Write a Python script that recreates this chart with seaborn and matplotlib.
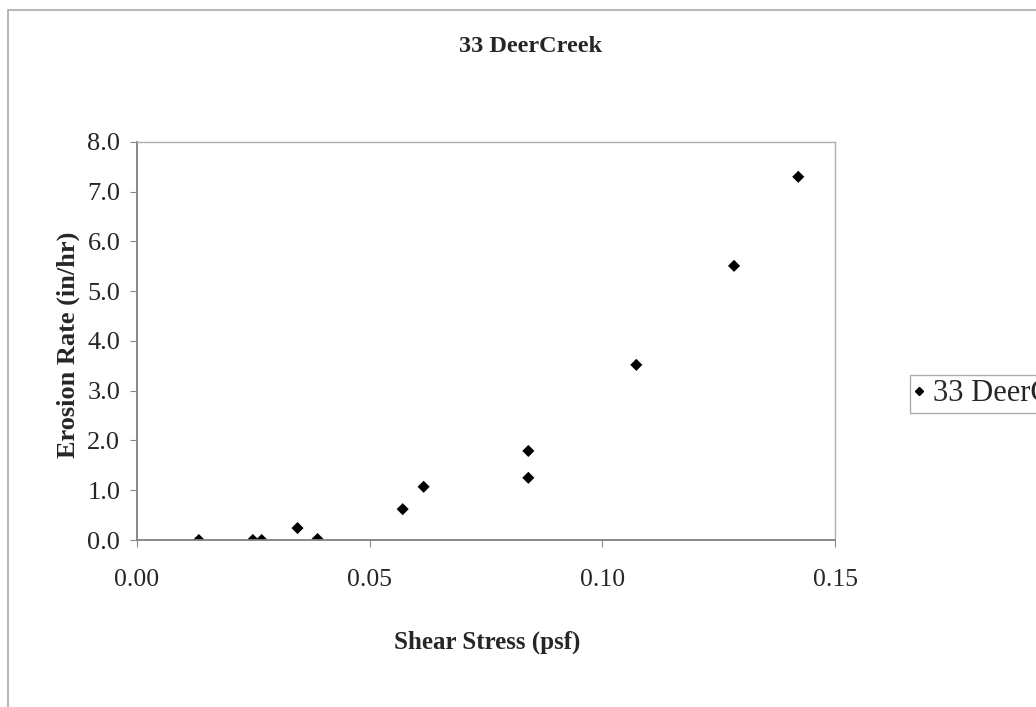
import matplotlib
matplotlib.use("Agg")
import matplotlib.pyplot as plt
import matplotlib.patches as patches
import seaborn as sns
import pandas as pd

# data
shear_stress = [0.0133, 0.0249, 0.0268, 0.0345, 0.0388, 0.0571, 0.0616, 0.0841, 0.0841, 0.1073, 0.1283, 0.1421]
erosion_rate = [0.00, 0.00, 0.00, 0.24, 0.02, 0.62, 1.07, 1.79, 1.25, 3.52, 5.51, 7.30]
series_name = "33 DeerCreek"

x_ticks = [0.00, 0.05, 0.10, 0.15]
y_ticks = [0, 1, 2, 3, 4, 5, 6, 7, 8]

df = pd.DataFrame({"shear": shear_stress, "erosion": erosion_rate, "site": series_name})

sns.set_style("white")
plt.rcParams["font.family"] = ["Liberation Serif", "DejaVu Serif"]

fig = plt.figure(figsize=(10.36, 7.07), dpi=100)
ax = fig.add_axes([0.1322, 0.2362, 0.806 - 0.1322, 0.7992 - 0.2362])

sns.scatterplot(data=df, x="shear", y="erosion", hue="site", palette=["black"],
                marker="D", s=38, edgecolor="black", linewidth=0, ax=ax, legend=False)

ax.set_xlim(0, 0.15)
ax.set_ylim(0, 8)
ax.set_xticks(x_ticks)
ax.set_xticklabels([f"{v:.2f}" for v in x_ticks])
ax.set_yticks(y_ticks)
ax.set_yticklabels([f"{v:.1f}" for v in y_ticks])
ax.tick_params(axis="x", labelsize=18.5, length=5, pad=16, color="#888888", direction="out", bottom=True)
ax.tick_params(axis="y", labelsize=19, length=5, pad=7, color="#888888", direction="out", left=True)
ax.set_xlabel("")
ax.set_ylabel("")

for side in ["left", "bottom"]:
    ax.spines[side].set_color("#808080")
    ax.spines[side].set_linewidth(1.3)
for side in ["top", "right"]:
    ax.spines[side].set_visible(True)
    ax.spines[side].set_color("#b0b0b0")
    ax.spines[side].set_linewidth(1.0)

fig.text(0.512, 0.934, "33 DeerCreek", ha="center", va="center", fontsize=17.5, fontweight="bold")
fig.text(0.47, 0.091, "Shear Stress (psf)", ha="center", va="center", fontsize=18, fontweight="bold")
fig.text(0.066, 0.512, "Erosion Rate (in/hr)", ha="center", va="center", rotation=90,
         fontsize=19, fontweight="bold")

# legend, partly cut off at the right edge like the reference
handle = plt.Line2D([], [], marker="D", color="black", linestyle="none", markersize=4)
leg = fig.legend([handle], [series_name], loc="center left", bbox_to_anchor=(0.878, 0.443),
                 bbox_transform=fig.transFigure, fontsize=22, frameon=True, fancybox=False,
                 handlelength=0.3, handletextpad=0.3, borderpad=0.15, borderaxespad=0)
leg.get_frame().set_edgecolor("#999999")
leg.get_frame().set_linewidth(1.0)

# outer chart border
fig.patches.append(patches.Rectangle((0.008, -0.1), 1.2, 0.986 + 0.1, transform=fig.transFigure,
                                     fill=False, edgecolor="#aaaaaa", linewidth=1.2))

fig.savefig("out.png", dpi=100)
